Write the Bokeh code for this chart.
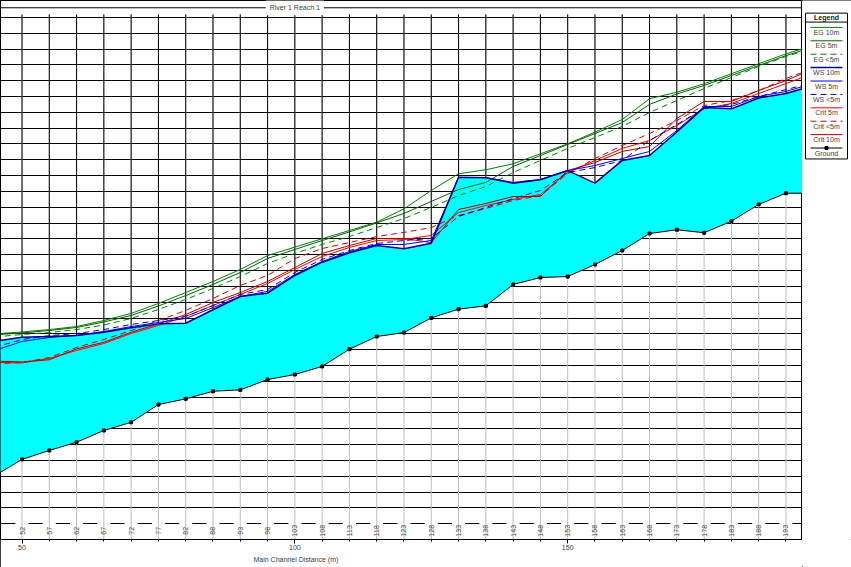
import math
from bokeh.plotting import figure
from bokeh.models import Range1d, FixedTicker, Label, Span, Title
from bokeh.layouts import row
from bokeh.embed import file_html
from bokeh.resources import INLINE
from bokeh.core.properties import value

# ---------------- data ----------------
station_labels = ["52", "57", "62", "67", "72", "77", "82", "88", "93", "98",
                  "103", "108", "113", "118", "123", "128", "133", "138", "143", "148",
                  "153", "158", "163", "168", "173", "178", "183", "188", "193"]
station_dist = [50, 55, 60, 65, 70, 75, 80, 85, 90, 95,
                100, 105, 110, 115, 120, 125, 130, 135, 140, 145,
                150, 155, 160, 165, 170, 175, 180, 185, 190]
# profile points incl. the reach beyond the plotted window on both ends
reach_dist = [45] + station_dist + [195]

ground = [4.03, 5.06, 5.63, 6.15, 6.89, 7.41, 8.53, 8.89, 9.37, 9.46, 10.11,
          10.43, 10.94, 12.03, 12.83, 13.08, 14.01, 14.56, 14.77, 16.12, 16.56,
          16.62, 17.38, 18.27, 19.34, 19.58, 19.39, 20.12, 21.18, 21.89, 21.89]
ws_10m = [12.52, 12.79, 12.83, 12.90, 13.10, 13.38, 13.63, 13.67, 14.52, 15.36, 15.57,
          16.69, 17.53, 18.12, 18.58, 18.38, 18.73, 22.90, 22.86, 22.52, 22.74,
          23.32, 22.53, 23.96, 24.27, 25.76, 27.31, 27.22, 27.91, 28.19, 28.69]
ws_5m = [11.95, 12.52, 12.77, 12.90, 13.15, 13.46, 13.72, 13.97, 14.66, 15.36, 15.68,
         16.75, 17.57, 18.20, 18.65, 18.65, 18.90, 22.88, 22.88, 22.57, 22.76,
         23.32, 23.64, 24.08, 24.53, 25.85, 27.37, 27.37, 28.00, 28.32, 28.83]
ws_lt5m = [12.16, 12.64, 12.89, 13.02, 13.27, 13.59, 13.84, 14.10, 14.79, 15.49, 15.80,
           16.88, 17.70, 18.27, 18.71, 18.90, 19.03, 20.42, 20.99, 21.55, 22.06,
           23.20, 23.51, 23.96, 25.22, 26.23, 27.24, 27.50, 28.00, 28.44, 28.87]
eg_10m = [12.99, 13.12, 13.27, 13.46, 13.84, 14.29, 14.92, 15.61, 16.31, 17.07, 17.95,
          18.48, 19.01, 19.53, 20.06, 20.90, 22.06, 23.12, 23.37, 23.75, 24.38,
          25.01, 25.75, 26.55, 27.86, 28.27, 28.81, 29.44, 30.07, 30.70, 31.23]
eg_5m = [12.94, 13.05, 13.21, 13.40, 13.75, 14.16, 14.76, 15.42, 16.12, 16.88, 17.76,
         18.33, 18.90, 19.44, 20.01, 20.61, 21.37, 22.12, 22.57, 23.58, 24.27,
         24.97, 25.66, 26.36, 27.50, 28.16, 28.70, 29.33, 29.96, 30.59, 31.12]
eg_lt5m = [12.80, 12.96, 13.08, 13.27, 13.56, 13.97, 14.54, 15.17, 15.87, 16.62, 17.45,
           18.08, 18.65, 19.15, 19.72, 20.29, 20.99, 21.74, 22.31, 23.20, 23.96,
           24.72, 25.41, 26.11, 26.99, 27.75, 28.51, 29.20, 29.90, 30.53, 31.06]
crit_5m = [11.20, 11.16, 11.44, 11.95, 12.39, 13.02, 13.53, 14.10, 14.79, 15.49, 16.18,
           17.07, 17.89, 18.46, 18.90, 18.96, 19.22, 20.67, 21.11, 21.49, 21.81,
           23.20, 23.96, 24.72, 25.22, 26.17, 27.24, 27.56, 28.19, 28.82, 29.45]
crit_lt5m = [11.10, 11.19, 11.50, 12.14, 12.64, 13.21, 13.84, 14.48, 15.23, 16.06, 16.69,
             17.76, 18.39, 18.77, 19.15, 19.41, 19.72, 20.48, 20.92, 21.43, 21.74,
             23.13, 24.08, 24.90, 25.66, 26.48, 27.43, 27.75, 28.38, 29.14, 29.77]
crit_10m = [11.28, 11.22, 11.36, 12.05, 12.47, 13.10, 13.63, 14.22, 14.98, 15.61, 16.31,
            17.19, 18.08, 18.58, 19.03, 19.03, 18.77, 20.86, 21.24, 21.68, 21.68,
            23.32, 23.83, 24.53, 24.84, 26.61, 27.69, 27.69, 28.38, 29.01, 29.75]

axis_ticks = [50, 100, 150]
legend_labels = ["EG 10m", "EG 5m", "EG <5m", "WS 10m", "WS 5m", "WS <5m",
                 "Crit 5m", "Crit <5m", "Crit 10m", "Ground"]

# ---------------- styles ----------------
FONT = "Liberation Sans"
TXT = "#404040"
styles = {
    "EG 10m": ("#008000", 1, "solid", eg_10m),
    "EG 5m": ("#006400", 1, "solid", eg_5m),
    "EG <5m": ("#008000", 1, "6 4", eg_lt5m),
    "WS 10m": ("#00008B", 1.5, "solid", ws_10m),
    "WS 5m": ("#0000FF", 1, "solid", ws_5m),
    "WS <5m": ("#0000C8", 1, "6 4", ws_lt5m),
    "Crit 5m": ("#FF0000", 1, "solid", crit_5m),
    "Crit <5m": ("#D00000", 1, "6 4", crit_lt5m),
    "Crit 10m": ("#B00000", 1, "solid", crit_10m),
}

GRID_TOP = 33.19
TITLE_Y = 33.61

p = figure(width=802, height=567,
           x_range=Range1d(46.06, 193.03), y_range=Range1d(0, 34.07),
           toolbar_location=None, output_backend="svg",
           y_axis_location=None,
           min_border_left=0, min_border_right=0, min_border_top=0, min_border_bottom=28)
p.outline_line_color = "black"
p.background_fill_color = "white"
p.border_fill_color = "white"

p.xgrid.visible = False
p.ygrid.ticker = FixedTicker(ticks=list(range(1, 34)))
p.ygrid.grid_line_color = "black"
p.ygrid.grid_line_alpha = 1.0
p.ygrid.grid_line_width = 1

ax = p.xaxis[0]
ax.ticker = FixedTicker(ticks=axis_ticks, minor_ticks=station_dist)
ax.axis_line_color = "black"
ax.major_tick_line_color = "black"
ax.minor_tick_line_color = "black"
ax.major_tick_in = 0
ax.major_tick_out = 4
ax.minor_tick_in = 0
ax.minor_tick_out = 2
ax.major_label_standoff = 1
ax.major_label_text_font_size = "7px"
ax.major_label_text_color = TXT
ax.major_label_text_font = FONT

p.add_layout(Title(text="Main Channel Distance (m)", align="left", offset=253,
                   text_font_size="7px", text_color=TXT, text_font=FONT,
                   text_font_style="normal", standoff=2), "below")

n = len(station_dist)
# white band behind the station labels
p.rect(x=station_dist, y=[0.6] * n, width=2.4, height=0.9,
       fill_color="white", line_color=None)
# vertical station lines: grey below the ground, black above it
p.segment(x0=station_dist, y0=[0] * n, x1=station_dist, y1=[GRID_TOP] * n,
          line_color="#bdbdbd", line_width=1)
p.segment(x0=station_dist, y0=ground[1:-1], x1=station_dist, y1=[GRID_TOP] * n,
          line_color="black", line_width=1)
p.text(x=station_dist, y=[0.55] * n, text=station_labels, angle=math.pi / 2,
       text_align="center", text_baseline="middle", text_font_size="7px",
       text_color=TXT, text_font=value(FONT))

# water
p.varea(x=reach_dist, y1=ground, y2=ws_10m, fill_color="#00FFFF")

# ground
p.line(reach_dist, ground, line_color="black", line_width=1)
p.scatter(station_dist, ground[1:-1], marker="square", size=3,
          fill_color="black", line_color="black")

for name in ["EG 10m", "EG 5m", "EG <5m", "Crit 5m", "Crit <5m", "Crit 10m",
             "WS <5m", "WS 5m", "WS 10m"]:
    c, w, d, vals = styles[name]
    p.line(reach_dist, vals, line_color=c, line_width=w, line_dash=d)

# title line
p.add_layout(Span(location=TITLE_Y, dimension="width", line_color="black", line_width=1))
p.add_layout(Label(x=100, y=TITLE_Y, text="River 1 Reach 1", text_align="center",
                   text_baseline="middle", text_font_size="7px", text_color=TXT,
                   text_font=FONT, background_fill_color="white", padding=4))

# ---------------- legend panel ----------------
leg = figure(width=49, height=567, x_range=Range1d(0, 49), y_range=Range1d(567, 0),
             toolbar_location=None, output_backend="svg",
             x_axis_location=None, y_axis_location=None,
             min_border_left=0, min_border_right=0, min_border_top=0, min_border_bottom=0)
leg.xgrid.visible = False
leg.ygrid.visible = False
leg.outline_line_color = None
leg.background_fill_color = "white"
leg.border_fill_color = "white"

leg.quad(left=3, right=45, top=13.3, bottom=166.7, fill_color="white",
         line_color="black", line_width=1)
leg.segment(x0=3, y0=22.7, x1=45, y1=22.7, line_color="black", line_width=1)
leg.text(x=[24], y=[17.8], text=["Legend"], text_align="center", text_baseline="middle",
         text_font_size="7px", text_font_style="bold", text_color="#202020",
         text_font=value(FONT))
text_ys = []
for i, lab in enumerate(legend_labels):
    yl = 28.3 + 14.1 * i
    text_ys.append(33.6 + 14.1 * i)
    if lab == "Ground":
        leg.line([8, 40], [yl, yl], line_color="black", line_width=1)
        leg.scatter([24], [yl], marker="square", size=3, fill_color="black",
                    line_color="black")
    else:
        c, w, d, _ = styles[lab]
        leg.line([8, 40], [yl, yl], line_color=c, line_width=w, line_dash=d)
leg.text(x=[24] * len(legend_labels), y=text_ys, text=legend_labels,
         text_align="center", text_baseline="middle", text_font_size="7px",
         text_color=TXT, text_font=value(FONT))

layout = row(p, leg, styles={"outline": "1px solid black", "outline-offset": "-1px"})

with open("out.html", "w") as f:
    f.write(file_html(layout, INLINE))
